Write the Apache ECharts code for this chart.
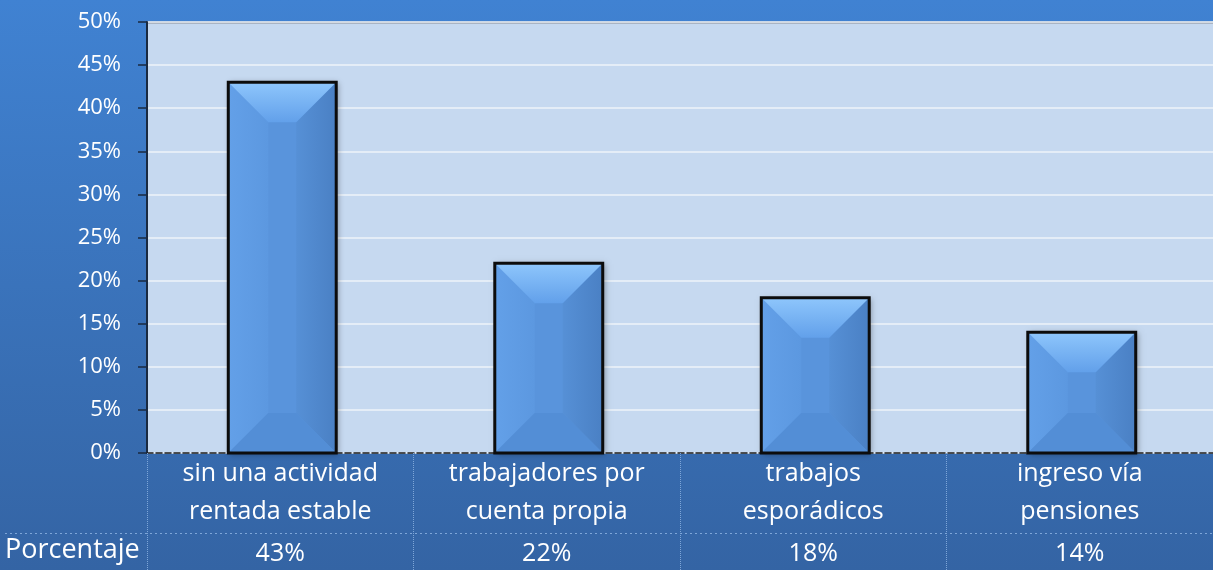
<!DOCTYPE html>
<html lang="es">
<head>
  <meta charset="UTF-8">
  <title>Porcentaje</title>
  <style>
    html, body { margin: 0; padding: 0; }
    #chart { width: 1213px; height: 570px; }
  </style>
</head>
<body>
  <div id="chart"></div>
  <script src="https://cdn.jsdelivr.net/npm/echarts@6/dist/echarts.min.js"></script>
  <script>
    const categories = ['sin una actividad\nrentada estable', 'trabajadores por\ncuenta propia', 'trabajos\nesporádicos', 'ingreso vía\npensiones'];
    const porcentaje = [43, 22, 18, 14];
    const rowTitle = 'Porcentaje';

    const font = '"Open Sans", "DejaVu Sans", sans-serif';
    const G = echarts.graphic;

    // bevelled bar, drawn from the axis coordinates
    function renderBar(params, api) {
      const topPt = api.coord([api.value(0), api.value(1)]);
      const basePt = api.coord([api.value(0), 0]);
      const w = api.size([1, 0])[0] * 0.405;
      const l = topPt[0] - w / 2 + 2, r = topPt[0] + w / 2 + 2;
      const t = topPt[1], b = basePt[1];
      const d = Math.min(40, w / 2, (b - t) / 2);
      return {
        type: 'group',
        children: [
          { type: 'rect', shape: { x: l, y: t, width: w, height: b - t },
            style: { fill: '#5994dc', shadowBlur: 6, shadowColor: 'rgba(0,0,0,0.35)', shadowOffsetX: 2, shadowOffsetY: 1 } },
          { type: 'polygon', shape: { points: [[l, t], [l + d, t + d], [l + d, b - d], [l, b]] },
            style: { fill: new G.LinearGradient(0, 0, 1, 0, [{ offset: 0, color: '#63a0e8' }, { offset: 1, color: '#5c98e0' }]) } },
          { type: 'polygon', shape: { points: [[r, t], [r - d, t + d], [r - d, b - d], [r, b]] },
            style: { fill: new G.LinearGradient(0, 0, 1, 0, [{ offset: 0, color: '#5690d6' }, { offset: 1, color: '#4a80c4' }]) } },
          { type: 'polygon', shape: { points: [[l, t], [r, t], [r - d, t + d], [l + d, t + d]] },
            style: { fill: new G.LinearGradient(0, 0, 0, 1, [{ offset: 0, color: '#8ec6fc' }, { offset: 1, color: '#62a0ea' }]) } },
          { type: 'polygon', shape: { points: [[l, b], [r, b], [r - d, b - d], [l + d, b - d]] },
            style: { fill: '#538ed6' } },
          { type: 'rect', shape: { x: l, y: t, width: w, height: b - t },
            style: { fill: 'none', stroke: '#0c0c0c', lineWidth: 3 } }
        ]
      };
    }

    const chart = echarts.init(document.getElementById('chart'));
    chart.setOption({
      backgroundColor: new G.LinearGradient(0, 0, 0, 1, [
        { offset: 0, color: '#4082d2' },
        { offset: 1, color: '#3464a4' }
      ]),
      textStyle: { fontFamily: font },
      grid: { left: 147, right: 0, top: 22, bottom: 117, show: true, backgroundColor: '#c6d9f0', borderWidth: 0 },
      graphic: [
        { type: 'line', shape: { x1: 147, y1: 22.5, x2: 1213, y2: 22.5 }, style: { stroke: '#8a8f98', lineWidth: 2 } },
        { type: 'line', shape: { x1: 5, y1: 533.5, x2: 1213, y2: 533.5 }, style: { stroke: '#7ea6d8', lineWidth: 1, lineDash: [2, 3] } },
        { type: 'text', left: 5, top: 537, style: { text: rowTitle, fill: '#ffffff', font: '27px ' + font } }
      ],
      xAxis: [
        {
          type: 'category', data: categories, position: 'bottom',
          axisLine: { show: true, lineStyle: { color: '#1a1a1a', width: 1.5, type: 'dashed' } },
          axisTick: { show: true, length: 117, lineStyle: { color: '#7ea6d8', type: 'dotted', width: 1 } },
          axisLabel: { color: '#ffffff', fontSize: 25, lineHeight: 38, margin: 2, fontFamily: font },
          splitLine: { show: false }
        },
        {
          type: 'category', data: porcentaje.map(v => v + '%'), position: 'bottom', offset: 80,
          axisLine: { show: false }, axisTick: { show: false },
          axisLabel: { color: '#ffffff', fontSize: 25, lineHeight: 30, margin: 6, fontFamily: font }
        }
      ],
      yAxis: {
        type: 'value', min: 0, max: 50, interval: 5,
        axisLine: { show: true, lineStyle: { color: '#1a2a40', width: 2 } },
        axisTick: { show: true, length: 9, lineStyle: { color: '#1a2a40', width: 1.5 } },
        axisLabel: { color: '#ffffff', fontSize: 22, margin: 26, formatter: '{value}%', fontFamily: font },
        splitLine: { lineStyle: { color: '#eef3fa', width: 1.5 } }
      },
      series: [{
        type: 'custom',
        renderItem: renderBar,
        data: porcentaje.map((v, i) => [i, v]),
        encode: { x: 0, y: 1 },
        z: 3
      }]
    });
  </script>
</body>
</html>
